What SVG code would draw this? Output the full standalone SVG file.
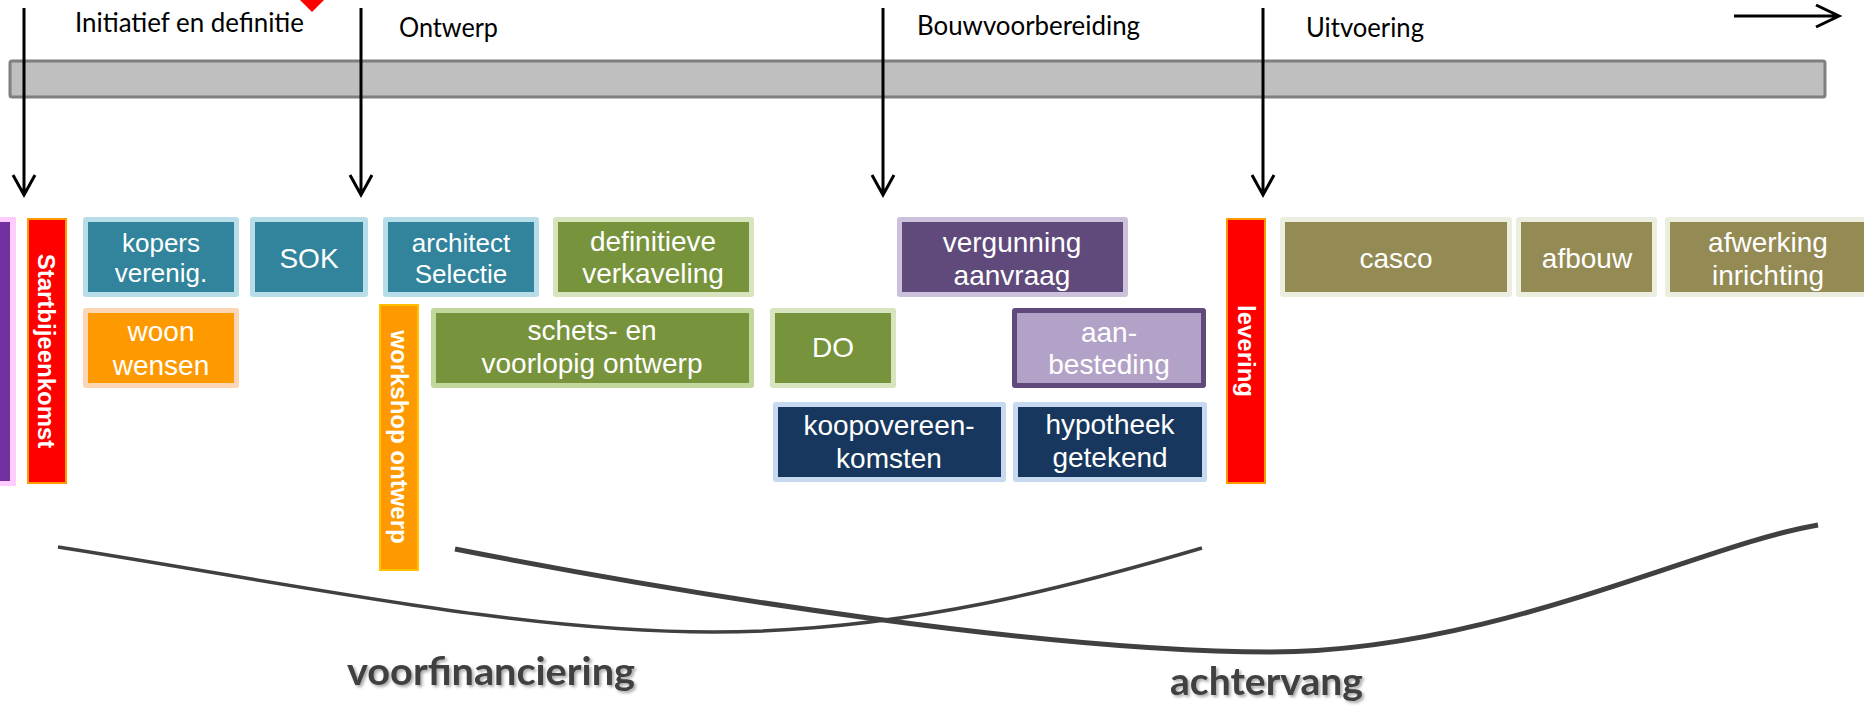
<svg xmlns="http://www.w3.org/2000/svg" width="1864" height="706" viewBox="0 0 1864 706">
<style>
.lbl{font-family:"Liberation Sans",Arial,sans-serif;fill:#fff;text-anchor:middle}
.vt{font-family:"Liberation Sans",Arial,sans-serif;font-weight:bold;fill:#fff;text-anchor:middle;font-size:24px}
.ph{font-family:Lato,"Open Sans",sans-serif;fill:#000;font-size:26px}
.big{font-family:Lato,"Open Sans",sans-serif;font-weight:bold;fill:#404040;font-size:39px;filter:url(#sh)}
.arr{stroke:#000;stroke-width:3;fill:none}
.curve{stroke:#404040;fill:none}
.tealO{fill:#B7DEE8}.tealI{fill:#31849B}
.oraO{fill:#FCD5B5}.oraI{fill:#FF9900}
.grnO{fill:#D7E4BD}.grnO2{fill:#C3D69B}.grnI{fill:#77933C}
.purO{fill:#CCC1DA}.purI{fill:#604A7B}
.lpO{fill:#604A7B}.lpI{fill:#B3A2C7}
.navO{fill:#C6D9F1}.navI{fill:#17375E}
.olvO{fill:#EBEEDF}.olvI{fill:#948A54}
</style>
<defs>
<filter id="sh" x="-10%" y="-30%" width="130%" height="170%">
<feDropShadow dx="2" dy="2" stdDeviation="1.5" flood-color="#000" flood-opacity="0.35"/>
</filter>
</defs>

<!-- timeline bar -->
<g id="timeline">
<rect x="10" y="61" width="1815" height="36" rx="2" fill="#BFBFBF" stroke="#7F7F7F" stroke-width="3"/>
<polygon points="300,0 324,0 312,12" fill="#FF0000"/>
</g>

<g id="phase-labels">
<text class="ph" x="75" y="32" textLength="229" lengthAdjust="spacingAndGlyphs">Initiatief en definitie</text>
<text class="ph" x="399" y="37" textLength="99" lengthAdjust="spacingAndGlyphs">Ontwerp</text>
<text class="ph" x="917" y="35" textLength="223" lengthAdjust="spacingAndGlyphs">Bouwvoorbereiding</text>
<text class="ph" x="1306" y="37" textLength="118" lengthAdjust="spacingAndGlyphs">Uitvoering</text>
</g>

<g id="connectors">
<path class="arr" d="M24,8 V194 M13,175 L24,195 L35,175"/>
<path class="arr" d="M361,8 V194 M350,175 L361,195 L372,175"/>
<path class="arr" d="M883,8 V194 M872,175 L883,195 L894,175"/>
<path class="arr" d="M1263,8 V194 M1252,175 L1263,195 L1274,175"/>
<path class="arr" d="M1734,16 H1838 M1816,5 L1839,16 L1816,27"/>
<path class="curve" stroke-width="3.5" d="M58,547 C300,585 520,632 713,632 S1080,584 1202,548"/>
<path class="curve" stroke-width="5" d="M455,549 C700,597 1050,652 1271,652 S1700,545 1818,525"/>
</g>

<g id="n-purple">
<rect x="-10" y="217" width="26" height="269" fill="#FFCCFF"/>
<rect x="-10" y="222" width="20" height="259" fill="#7030A0"/>
</g>

<g id="n-startbijeenkomst">
<rect x="28" y="219" width="38" height="264" fill="#FF0000" stroke="#FF9900" stroke-width="2"/>
<text class="vt" transform="translate(46,351) rotate(90)" x="0" y="8.5">Startbijeenkomst</text>
</g>

<g id="n-kopers">
<rect class="tealO" x="83" y="217" width="156" height="80" rx="3"/>
<rect class="tealI" x="88" y="222" width="146" height="70"/>
<text class="lbl" font-size="26"><tspan x="161" y="252">kopers</tspan><tspan x="161" y="282">verenig.</tspan></text>
</g>

<g id="n-sok">
<rect class="tealO" x="250" y="217" width="118" height="80" rx="3"/>
<rect class="tealI" x="255" y="222" width="108" height="70"/>
<text class="lbl" font-size="28" x="309" y="268">SOK</text>
</g>

<g id="n-architect">
<rect class="tealO" x="383" y="217" width="156" height="80" rx="3"/>
<rect class="tealI" x="388" y="222" width="146" height="70"/>
<text class="lbl" font-size="26"><tspan x="461" y="252">architect</tspan><tspan x="461" y="283">Selectie</tspan></text>
</g>

<g id="n-definitieve">
<rect class="grnO" x="553" y="217" width="201" height="80" rx="3"/>
<rect class="grnI" x="558" y="222" width="191" height="70"/>
<text class="lbl" font-size="28"><tspan x="653" y="251">definitieve</tspan><tspan x="653" y="283">verkaveling</tspan></text>
</g>

<g id="n-vergunning">
<rect class="purO" x="897" y="217" width="231" height="80" rx="3"/>
<rect class="purI" x="902" y="222" width="221" height="70"/>
<text class="lbl" font-size="28"><tspan x="1012" y="252">vergunning</tspan><tspan x="1012" y="285">aanvraag</tspan></text>
</g>

<g id="n-woon">
<rect class="oraO" x="83" y="308" width="156" height="80" rx="3"/>
<rect class="oraI" x="88" y="313" width="146" height="70"/>
<text class="lbl" font-size="28"><tspan x="161" y="341">woon</tspan><tspan x="161" y="375">wensen</tspan></text>
</g>

<g id="n-workshop">
<rect x="380" y="305" width="38" height="265" fill="#FF9900" stroke="#FFC000" stroke-width="2"/>
<text class="vt" transform="translate(399,437) rotate(90)" x="0" y="8.5">workshop ontwerp</text>
</g>

<g id="n-schets">
<rect class="grnO2" x="431" y="308" width="323" height="80" rx="3"/>
<rect class="grnI" x="436" y="313" width="313" height="70"/>
<text class="lbl" font-size="28"><tspan x="592" y="340">schets- en</tspan><tspan x="592" y="373">voorlopig ontwerp</tspan></text>
</g>

<g id="n-do">
<rect class="grnO" x="770" y="308" width="126" height="80" rx="3"/>
<rect class="grnI" x="775" y="313" width="116" height="70"/>
<text class="lbl" font-size="28" x="833" y="357">DO</text>
</g>

<g id="n-aanbesteding">
<rect class="lpO" x="1012" y="308" width="194" height="80" rx="3"/>
<rect class="lpI" x="1017" y="313" width="184" height="70"/>
<text class="lbl" font-size="28"><tspan x="1109" y="342">aan-</tspan><tspan x="1109" y="374">besteding</tspan></text>
</g>

<g id="n-koopovereenkomsten">
<rect class="navO" x="773" y="402" width="233" height="80" rx="3"/>
<rect class="navI" x="778" y="407" width="223" height="70"/>
<text class="lbl" font-size="28"><tspan x="889" y="435">koopovereen-</tspan><tspan x="889" y="468">komsten</tspan></text>
</g>

<g id="n-hypotheek">
<rect class="navO" x="1013" y="402" width="194" height="80" rx="3"/>
<rect class="navI" x="1018" y="407" width="184" height="70"/>
<text class="lbl" font-size="28"><tspan x="1110" y="434">hypotheek</tspan><tspan x="1110" y="467">getekend</tspan></text>
</g>

<g id="n-levering">
<rect x="1227" y="219" width="38" height="264" fill="#FF0000" stroke="#FF9900" stroke-width="2"/>
<text class="vt" transform="translate(1246,351) rotate(90)" x="0" y="8.5">levering</text>
</g>

<g id="n-casco">
<rect class="olvO" x="1280" y="217" width="232" height="80" rx="3"/>
<rect class="olvI" x="1285" y="222" width="222" height="70"/>
<text class="lbl" font-size="28" x="1396" y="268">casco</text>
</g>

<g id="n-afbouw">
<rect class="olvO" x="1516" y="217" width="141" height="80" rx="3"/>
<rect class="olvI" x="1521" y="222" width="131" height="70"/>
<text class="lbl" font-size="28" x="1587" y="268">afbouw</text>
</g>

<g id="n-afwerking">
<rect class="olvO" x="1665" y="217" width="206" height="80" rx="3"/>
<rect class="olvI" x="1670" y="222" width="196" height="70"/>
<text class="lbl" font-size="28"><tspan x="1768" y="252">afwerking</tspan><tspan x="1768" y="285">inrichting</tspan></text>
</g>

<g id="bottom-labels">
<text class="big" x="347" y="685" textLength="288" lengthAdjust="spacingAndGlyphs">voorfinanciering</text>
<text class="big" x="1170" y="695" textLength="193" lengthAdjust="spacingAndGlyphs">achtervang</text>
</g>
</svg>
